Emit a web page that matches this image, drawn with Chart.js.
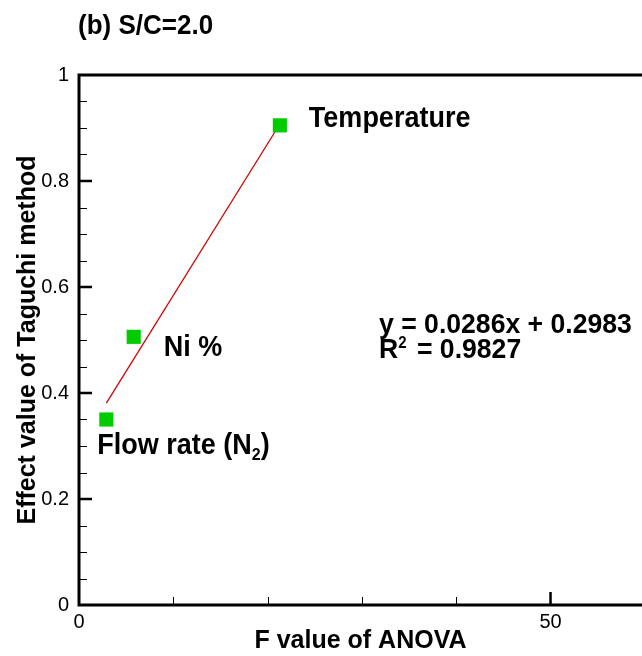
<!DOCTYPE html>
<html lang="en">
  <head>
    <meta charset="UTF-8" />
    <title>S/C=2.0</title>
    <script src="https://cdn.jsdelivr.net/npm/chart.js"></script>
    <style>
      body { margin: 0; background: #fff; }
    </style>
  </head>
  <body>
    <canvas id="effectChart" width="642" height="656"></canvas>
    <script>
      // factors: F value (ANOVA) vs effect value (Taguchi)
      const factorNames = ["Temperature", "Ni %", "Flow rate (N_2)"];
      const fValues = [21.3, 5.8, 2.9];
      const effectValues = [0.905, 0.506, 0.35];

      // linear fit drawn between these two x values
      const fitX = [2.9, 21.0];
      const fitY = [0.381, 0.899];
      const fitEquation = "y = 0.0286x + 0.2983";
      const fitR2 = "0.9827";

      const xTickValues = [0, 50];
      const xTickLabels = ["0", "50"];
      const yTickValues = [0, 0.2, 0.4, 0.6, 0.8, 1];
      const yTickLabels = ["0", "0.2", "0.4", "0.6", "0.8", "1"];

      // label offsets from each marker, in px (left edge, baseline)
      const labelOffsets = [
        [29, 2],
        [30, 19],
        [-9, 34],
      ];

      const FAMILY = '"Liberation Sans", Arial, Helvetica, sans-serif';
      const font = (size, bold) => `${bold ? "bold " : ""}${size}px ${FAMILY}`;

      // draws text where "_2" means subscript and "^2" superscript,
      // slightly stretched vertically like the plotting package's bold face
      function drawRich(ctx, str, x, y, size) {
        const parts = str.split(/([_^]\S)/).filter((p) => p.length);
        ctx.save();
        ctx.translate(x, y);
        ctx.scale(1, 1.07);
        ctx.textAlign = "left";
        ctx.textBaseline = "alphabetic";
        let cx = 0;
        parts.forEach((p) => {
          let text = p, s = size, dy = 0;
          if (p[0] === "_") { text = p.slice(1); s = 16; dy = 6; }
          if (p[0] === "^") { text = p.slice(1); s = 15; dy = -9; }
          ctx.font = font(s, true);
          ctx.fillText(text, cx, dy);
          cx += ctx.measureText(text).width + (p[0] === "^" ? 3 : 0);
        });
        ctx.restore();
      }

      const frame = {
        id: "frame",
        beforeDatasetsDraw(chart) {
          const { ctx, chartArea: a, scales } = chart;
          const x = scales.x, y = scales.y;
          ctx.save();
          ctx.strokeStyle = "#000";
          ctx.lineCap = "butt";

          // minor ticks, pointing inward
          ctx.lineWidth = 1;
          ctx.beginPath();
          for (let i = 1; i < 20; i++) {
            if (i % 4 === 0) continue;
            const py = Math.round(y.getPixelForValue(i * 0.05)) + 0.5;
            ctx.moveTo(a.left, py);
            ctx.lineTo(a.left + 8, py);
          }
          for (let v = 10; v < x.max; v += 10) {
            if (v % 50 === 0) continue;
            const px = Math.round(x.getPixelForValue(v)) + 0.5;
            ctx.moveTo(px, a.bottom);
            ctx.lineTo(px, a.bottom - 8);
          }
          ctx.stroke();

          // major ticks
          ctx.lineWidth = 2.5;
          ctx.beginPath();
          yTickValues.slice(1, -1).forEach((v) => {
            const py = y.getPixelForValue(v);
            ctx.moveTo(a.left, py);
            ctx.lineTo(a.left + 13, py);
          });
          xTickValues.slice(1).forEach((v) => {
            const px = x.getPixelForValue(v);
            ctx.moveTo(px, a.bottom);
            ctx.lineTo(px, a.bottom - 13);
          });
          ctx.stroke();

          // frame: left, bottom, top
          ctx.lineWidth = 3;
          ctx.beginPath();
          ctx.moveTo(a.right + 2, a.top);
          ctx.lineTo(a.left, a.top);
          ctx.lineTo(a.left, a.bottom);
          ctx.lineTo(a.right + 2, a.bottom);
          ctx.stroke();
          ctx.restore();
        },
        afterDatasetsDraw(chart) {
          const { ctx, scales } = chart;
          ctx.save();
          ctx.fillStyle = "#000";

          // panel title
          drawRich(ctx, "(b) S/C=2.0", 78, 34, 26);

          // factor labels next to markers
          factorNames.forEach((name, i) => {
            const px = scales.x.getPixelForValue(fValues[i]);
            const py = scales.y.getPixelForValue(effectValues[i]);
            drawRich(ctx, name, px + labelOffsets[i][0], py + labelOffsets[i][1], 27);
          });

          // fit equation
          drawRich(ctx, fitEquation, 379, 333, 26.6);
          drawRich(ctx, "R^2 = " + fitR2, 379, 358, 26.6);
          ctx.restore();
        },
      };

      new Chart(document.getElementById("effectChart"), {
        type: "scatter",
        data: {
          datasets: [
            {
              label: "Factors",
              data: fValues.map((v, i) => ({ x: v, y: effectValues[i] })),
              pointStyle: "rect",
              pointRadius: 10,
              pointBorderWidth: 0,
              backgroundColor: "#00cc00",
              borderColor: "#00cc00",
            },
            {
              label: "Fit",
              type: "line",
              data: fitX.map((v, i) => ({ x: v, y: fitY[i] })),
              borderColor: "#d40000",
              borderWidth: 1.3,
              pointRadius: 0,
              fill: false,
            },
          ],
        },
        options: {
          responsive: false,
          animation: false,
          layout: { autoPadding: false, padding: { top: 75, right: 0, left: 0, bottom: 0 } },
          plugins: {
            legend: { display: false },
            tooltip: { enabled: false },
          },
          scales: {
            x: {
              type: "linear",
              min: 0,
              max: 59.7,
              grid: { display: false, drawTicks: false },
              border: { display: false },
              afterBuildTicks: (s) => {
                s.ticks = xTickValues.map((v) => ({ value: v }));
              },
              afterFit: (s) => {
                s.height = 51;
              },
              ticks: {
                color: "#000",
                font: { family: FAMILY, size: 20 },
                padding: 5,
                maxRotation: 0,
                callback: (v, i) => xTickLabels[i],
              },
              title: {
                display: true,
                text: "F value of ANOVA",
                color: "#000",
                font: { family: FAMILY, size: 25, weight: "bold" },
                padding: { top: 0, bottom: 0 },
              },
            },
            y: {
              min: 0,
              max: 1,
              grid: { display: false, drawTicks: false },
              border: { display: false },
              afterBuildTicks: (s) => {
                s.ticks = yTickValues.map((v) => ({ value: v }));
              },
              afterFit: (s) => {
                s.width = 79;
              },
              ticks: {
                color: "#000",
                font: { family: FAMILY, size: 20 },
                padding: 10,
                callback: (v, i) => yTickLabels[i],
              },
              title: {
                display: true,
                text: "Effect value of Taguchi method",
                color: "#000",
                font: { family: FAMILY, size: 25, weight: "bold" },
                padding: { top: 13, bottom: 0 },
              },
            },
          },
        },
        plugins: [frame],
      });
    </script>
  </body>
</html>
